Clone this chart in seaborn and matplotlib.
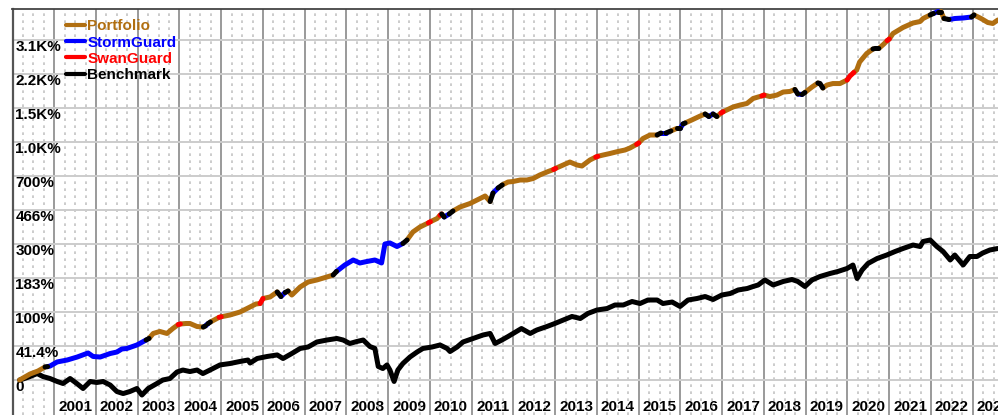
import numpy as np
import pandas as pd
import matplotlib
matplotlib.use("Agg")
import matplotlib.pyplot as plt
import seaborn as sns
from matplotlib.lines import Line2D
from matplotlib.ticker import FixedLocator, NullLocator

# ---------------- data ----------------
portfolio_dates = [
    2000.17, 2000.42, 2000.61, 2000.78, 2000.84, 2000.90, 2001.07, 2001.31, 2001.55, 2001.81,
    2001.93, 2002.10, 2002.34, 2002.50, 2002.62, 2002.74, 2002.98, 2003.20, 2003.27, 2003.37,
    2003.53, 2003.70, 2003.84, 2003.97, 2004.02, 2004.16, 2004.25, 2004.42, 2004.57, 2004.62,
    2004.68, 2004.74, 2004.95, 2005.00, 2005.21, 2005.45, 2005.69, 2005.83, 2005.93, 2006.00,
    2006.17, 2006.34, 2006.43, 2006.53, 2006.60, 2006.69, 2006.89, 2007.08, 2007.29, 2007.53,
    2007.68, 2007.76, 2007.96, 2008.16, 2008.32, 2008.49, 2008.68, 2008.84, 2008.92, 2009.04,
    2009.21, 2009.35, 2009.45, 2009.59, 2009.76, 2009.96, 2010.01, 2010.17, 2010.24, 2010.28,
    2010.34, 2010.46, 2010.55, 2010.72, 2010.96, 2011.20, 2011.32, 2011.44, 2011.51, 2011.63,
    2011.73, 2011.87, 2011.99, 2012.16, 2012.32, 2012.47, 2012.63, 2012.83, 2012.96, 2013.01,
    2013.19, 2013.35, 2013.52, 2013.64, 2013.83, 2013.97, 2014.02, 2014.15, 2014.31, 2014.50,
    2014.67, 2014.79, 2014.95, 2015.00, 2015.10, 2015.27, 2015.44, 2015.53, 2015.65, 2015.77,
    2015.91, 2015.99, 2016.06, 2016.11, 2016.27, 2016.47, 2016.59, 2016.68, 2016.78, 2016.87,
    2016.97, 2017.02, 2017.26, 2017.43, 2017.59, 2017.74, 2017.86, 2017.95, 2018.00, 2018.14,
    2018.31, 2018.46, 2018.62, 2018.74, 2018.81, 2018.91, 2018.98, 2019.15, 2019.29, 2019.34,
    2019.41, 2019.51, 2019.65, 2019.82, 2019.99, 2020.06, 2020.15, 2020.22, 2020.29, 2020.46,
    2020.61, 2020.66, 2020.75, 2020.87, 2020.95, 2021.00, 2021.09, 2021.33, 2021.57, 2021.74,
    2021.81, 2021.98, 2022.06, 2022.17, 2022.24, 2022.31, 2022.43, 2022.57, 2022.77, 2022.97,
    2023.03, 2023.20, 2023.36, 2023.48, 2023.60,
]
portfolio_gain = [
    0.0, 6.3, 9.6, 14.2, 14.6, 15.3, 20.2, 22.6, 26.4, 31.7,
    27.1, 26.4, 31.0, 33.0, 37.2, 37.9, 42.9, 50.3, 52.7, 60.7,
    64.0, 60.7, 69.0, 76.0, 77.0, 77.9, 77.9, 72.5, 71.6, 73.5,
    77.5, 80.6, 89.5, 90.5, 94.0, 100.0, 110.5, 117.0, 118.1, 129.5,
    133.1, 145.3, 134.2, 144.0, 147.8, 137.8, 158.1, 171.5, 177.2, 185.8,
    191.6, 202.3, 222.9, 239.8, 229.6, 234.7, 239.8, 229.6, 300.0, 304.2,
    289.9, 302.0, 316.7, 352.0, 375.7, 396.0, 402.0, 418.8, 436.0, 443.1,
    426.8, 443.1, 459.9, 483.3, 504.6, 536.0, 552.5, 516.9, 572.7, 608.1,
    630.1, 652.7, 656.4, 668.0, 668.0, 679.7, 708.3, 737.4, 755.0, 765.0,
    794.9, 822.6, 794.9, 785.8, 841.6, 870.0, 878.0, 891.1, 906.3, 926.8,
    942.6, 964.3, 1005.0, 1020.0, 1072.0, 1115.0, 1115.0, 1140.0, 1140.0, 1166.0,
    1199.0, 1199.0, 1260.0, 1273.0, 1316.0, 1374.0, 1405.0, 1367.0, 1405.0, 1367.0,
    1420.0, 1440.0, 1517.0, 1550.0, 1575.0, 1663.0, 1690.0, 1710.0, 1726.0, 1698.0,
    1726.0, 1783.0, 1794.0, 1832.0, 1745.0, 1736.0, 1774.0, 1882.0, 1964.0, 1955.0,
    1862.0, 1922.0, 1953.0, 1953.0, 2028.0, 2117.0, 2197.0, 2257.0, 2456.0, 2688.0,
    2820.0, 2835.0, 2835.0, 2971.0, 3080.0, 3130.0, 3320.0, 3536.0, 3706.0, 3764.0,
    3884.0, 4030.0, 4094.0, 4178.0, 4178.0, 3884.0, 3843.0, 3884.0, 3905.0, 3945.0,
    4030.0, 3884.0, 3725.0, 3687.0, 3823.0,
]
# P = Portfolio, S = StormGuard, R = SwanGuard, B = Benchmark (mode of the step ending at each point)
portfolio_mode = list(
    "PPPPBSSSSS"
    "SSSSSSSSBP"
    "PPPPRPPPPB"
    "SBPRPPPPPR"
    "PPBSBPPPPP"
    "PBSSSSSSSS"
    "SSBPPPRPPR"
    "BSBPPPPPBS"
    "BPPPPPPPPR"
    "PPPPPPRPPP"
    "PPPRPPPBSB"
    "PBSBPPPBSB"
    "PRPPPPPPRP"
    "PPPPBSBPPB"
    "BPPPPRRPPP"
    "PBBPPRPPPP"
    "PPBSBPBSSS"
    "BPPPP"
)

bench_dates = [
    2000.17, 2000.25, 2000.42, 2000.59, 2000.73, 2000.90, 2001.07, 2001.21, 2001.38, 2001.54,
    2001.69, 2001.86, 2002.02, 2002.17, 2002.34, 2002.50, 2002.65, 2002.81, 2002.98, 2003.10,
    2003.25, 2003.46, 2003.60, 2003.77, 2003.94, 2004.08, 2004.25, 2004.42, 2004.56, 2004.73,
    2004.97, 2005.21, 2005.45, 2005.64, 2005.69, 2005.86, 2006.10, 2006.34, 2006.48, 2006.69,
    2006.89, 2007.08, 2007.29, 2007.53, 2007.77, 2007.92, 2008.08, 2008.25, 2008.40, 2008.56,
    2008.68, 2008.76, 2008.87, 2008.97, 2009.04, 2009.14, 2009.23, 2009.35, 2009.52, 2009.69,
    2009.83, 2010.05, 2010.24, 2010.41, 2010.48, 2010.65, 2010.79, 2011.03, 2011.27, 2011.44,
    2011.56, 2011.72, 2011.87, 2011.99, 2012.19, 2012.40, 2012.56, 2012.80, 2012.99, 2013.19,
    2013.40, 2013.60, 2013.78, 2014.00, 2014.24, 2014.43, 2014.63, 2014.84, 2015.03, 2015.22,
    2015.44, 2015.58, 2015.80, 2015.99, 2016.18, 2016.40, 2016.59, 2016.78, 2016.99, 2017.19,
    2017.38, 2017.60, 2017.74, 2017.86, 2018.02, 2018.22, 2018.46, 2018.67, 2018.81, 2018.98,
    2019.15, 2019.34, 2019.58, 2019.77, 2019.99, 2020.13, 2020.23, 2020.35, 2020.49, 2020.71,
    2020.94, 2021.14, 2021.33, 2021.57, 2021.74, 2021.81, 2021.98, 2022.14, 2022.29, 2022.46,
    2022.57, 2022.77, 2022.93, 2023.10, 2023.24, 2023.41, 2023.60,
]
bench_gain = [
    0.0, 1.0, 3.6, 6.8, 3.6, 1.5, -1.5, -3.5, 1.5, -3.5,
    -8.3, -1.5, -2.5, -1.5, -5.0, -11.1, -12.9, -11.1, -8.3, -14.2,
    -8.3, -3.5, 0.0, 1.5, 8.5, 10.7, 9.0, 10.7, 6.8, 10.7,
    16.6, 18.3, 20.8, 22.6, 18.9, 24.5, 27.1, 29.1, 24.5, 31.0,
    37.9, 40.0, 47.3, 50.3, 52.7, 50.3, 45.1, 48.1, 50.3, 40.7,
    37.9, 14.8, 12.4, 16.6, 10.7, -1.5, 10.7, 18.3, 26.4, 33.0,
    37.9, 40.0, 42.9, 37.9, 33.7, 40.0, 47.3, 52.7, 58.2, 60.7,
    45.1, 50.3, 55.8, 60.7, 69.0, 60.7, 66.5, 72.5, 77.9, 84.3,
    91.1, 87.2, 97.0, 104.1, 107.2, 114.8, 114.8, 122.6, 118.1, 126.0,
    126.0, 118.1, 121.4, 111.6, 126.0, 129.6, 134.2, 127.2, 137.8, 141.5,
    150.3, 154.2, 159.4, 163.4, 177.2, 163.4, 173.0, 178.6, 173.0, 159.4,
    177.2, 187.2, 196.1, 202.3, 211.7, 222.9, 181.4, 206.9, 227.9, 245.1,
    257.5, 270.6, 282.1, 295.9, 289.9, 310.3, 316.7, 289.9, 270.6, 239.8,
    257.5, 222.9, 252.1, 252.1, 265.0, 276.3, 282.1,
]

series_names = ["Portfolio", "StormGuard", "SwanGuard", "Benchmark"]
mode_codes = ["P", "S", "R", "B"]
series_colors = ["#B06E10", "#0000FF", "#FF0000", "#000000"]

y_tick_labels = ["0", "41.4%", "100%", "183%", "300%", "466%", "700%",
                 "1.0K%", "1.5K%", "2.2K%", "3.1K%"]
year_labels = [str(y) for y in range(2001, 2024)]

# ---------------- figure ----------------
sns.set_theme(style="white")
plt.rcParams["font.family"] = ["Liberation Sans", "DejaVu Sans"]

W, H = 998, 415
fig = plt.figure(figsize=(W / 100, H / 100), dpi=100)
left_px, top_px = 12.5, 9.3
ax = fig.add_axes([left_px / W, 0, 1 - left_px / W, 1 - top_px / H])

px_per_year = 41.75
x_min = 2000.0
x_max = x_min + (W - left_px) / px_per_year
px_per_oct = 68.0
zero_px = 380.0
y_top = 2 ** ((zero_px - top_px) / px_per_oct)
y_bot = 2 ** ((zero_px - H) / px_per_oct)

color_of = dict(zip(mode_codes, series_colors))

# benchmark
bench = pd.DataFrame({"date": bench_dates, "growth": 1 + np.array(bench_gain) / 100.0})
sns.lineplot(data=bench, x="date", y="growth", color="black", lw=3.6, ax=ax,
             estimator=None, sort=False, solid_capstyle="round", zorder=3)

# portfolio, coloured by mode
pf = pd.DataFrame({"date": portfolio_dates,
                   "growth": 1 + np.array(portfolio_gain) / 100.0,
                   "mode": portfolio_mode})
run_id = (pf["mode"] != pf["mode"].shift()).cumsum()
pieces = []
for rid, g in pf.groupby(run_id):
    start = max(g.index[0] - 1, 0)
    seg = pf.loc[start:g.index[-1], ["date", "growth"]].copy()
    seg["run"] = rid
    seg["segmode"] = g["mode"].iloc[0]
    pieces.append(seg)
segs = pd.concat(pieces, ignore_index=True)
for z, m in enumerate(mode_codes):
    d = segs[segs["segmode"] == m]
    if len(d) == 0:
        continue
    sns.lineplot(data=d, x="date", y="growth", units="run", estimator=None,
                 color=color_of[m], lw=3.6, ax=ax, sort=False,
                 solid_capstyle="round", zorder=4 + z, legend=False)

# scales
ax.set_yscale("log", base=2)
ax.set_xlim(x_min, x_max)
ax.set_ylim(y_bot, y_top)

# y ticks
yt = [2 ** (k / 2) for k in range(len(y_tick_labels))]
ax.yaxis.set_major_locator(FixedLocator(yt))
ax.yaxis.set_minor_locator(NullLocator())
ax.set_yticklabels(y_tick_labels, fontweight="bold", fontsize=11, ha="left", va="top")
ax.tick_params(axis="y", which="major", length=0, pad=-2, labelcolor="black")

# x ticks: years (gridlines) and quarters (dotted) + labels mid-year
years = list(range(2000, 2024))
ax.xaxis.set_major_locator(FixedLocator(years))
ax.set_xticklabels([""] * len(years))
quarters = [y + q for y in range(2000, 2024) for q in (0.25, 0.5, 0.75)]
ax.xaxis.set_minor_locator(FixedLocator(quarters))
qlabels = []
for y in range(2000, 2024):
    for q in (0.25, 0.5, 0.75):
        qlabels.append(str(y) if (q == 0.5 and y >= 2001) else "")
ax.set_xticklabels(qlabels, minor=True, fontweight="bold", fontsize=11)
ax.tick_params(axis="x", which="both", length=0, pad=-10.5, labelcolor="black")

ax.grid(True, axis="x", which="major", color="#9a9a9a", lw=1.4)
ax.grid(True, axis="x", which="minor", color="#c4c4c4", lw=1.2, linestyle=(0, (1.6, 2.6)))
ax.grid(True, axis="y", which="major", color="#cccccc", lw=1.4)
ax.set_axisbelow(True)

for s in ["right", "bottom"]:
    ax.spines[s].set_visible(False)
ax.spines["left"].set_color("#555555")
ax.spines["left"].set_linewidth(1.6)
ax.spines["top"].set_color("#444444")
ax.spines["top"].set_linewidth(1.3)
ax.set_xlabel("")
ax.set_ylabel("")
ax.set_facecolor("white")

handles = [Line2D([], [], color=c, lw=3.0) for c in series_colors]
ax.legend(handles, series_names, loc="upper left",
          bbox_to_anchor=(66 / W, 1 - 19.5 / H), bbox_transform=fig.transFigure,
          frameon=False, handlelength=1.25, handletextpad=0.15, labelspacing=0.14,
          borderpad=0, borderaxespad=0, prop={"weight": "bold", "size": 11},
          labelcolor="linecolor")

fig.savefig("out.png", dpi=100)
